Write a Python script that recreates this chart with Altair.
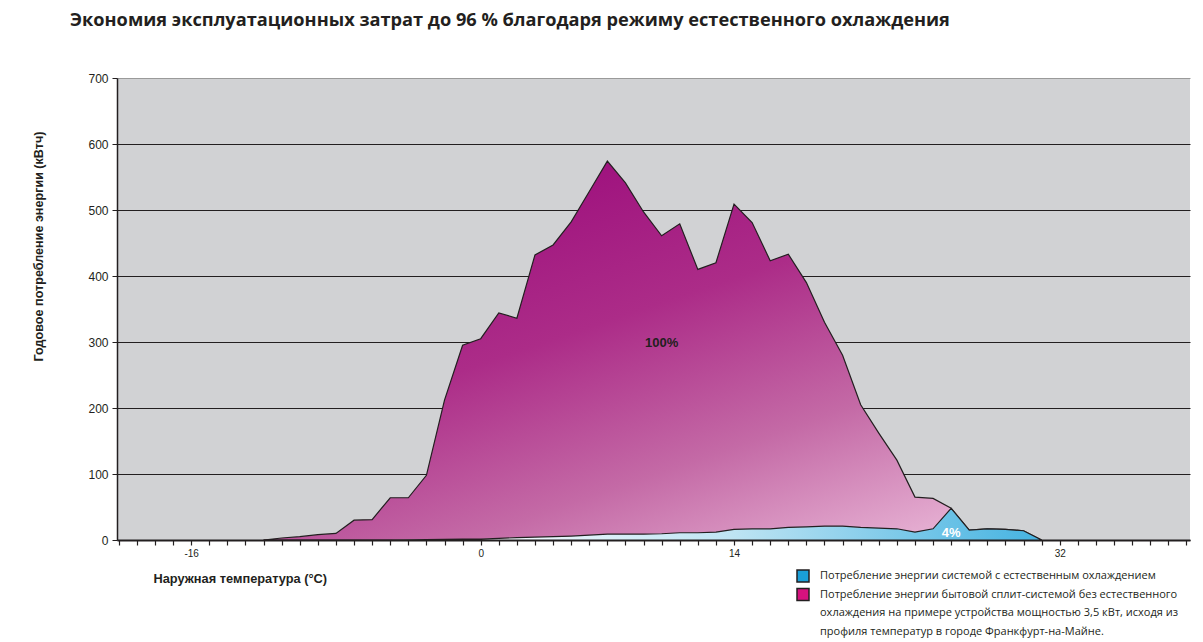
import altair as alt
import pandas as pd

temps = list(range(-12, 32))
without_free = [0, 3, 5, 8, 10, 30, 31, 64, 64, 98, 212, 295, 305, 344, 336, 432, 447, 482, 528, 574,
                541, 497, 461, 479, 410, 420, 509, 481, 423, 433, 390, 330, 280, 205, 162, 121, 65, 63,
                48, 15, 17, 16, 14, 0]
with_free = [0, 0, 0, 0, 0, 0, 0, 0, 0.3, 0.6, 0.9, 1.2, 1.5, 2.5, 3.5, 4.5, 5, 6, 7.5, 9,
             9, 9, 9.5, 11, 11, 12, 16, 17, 17, 19, 20, 21, 21, 19, 18, 17, 12, 17,
             48, 15, 17, 16, 14, 0]

x_ticks = list(range(-20, 40))
x_labels_shown = [-16, 0, 14, 32]
y_ticks = [0, 100, 200, 300, 400, 500, 600, 700]

legend_lines = ["Потребление энергии системой с естественным охлаждением",
                "Потребление энергии бытовой сплит-системой без естественного",
                "охлаждения на примере устройства мощностью 3,5 кВт, исходя из",
                "профиля температур в городе Франкфурт-на-Майне."]
legend_fill = ["#1a9fd8", "#d6127e", "transparent", "transparent"]
legend_border = ["#231f20", "#231f20", "transparent", "transparent"]

annot_t = [10, 26]
annot_v = [298, 11]
annot_text = ["100%", "4%"]
annot_color = ["#231f20", "#ffffff"]

df = pd.DataFrame({"t": temps, "without": without_free, "with": with_free})
ann = pd.DataFrame({"t": annot_t, "v": annot_v, "txt": annot_text, "c": annot_color})
leg = pd.DataFrame({"series": legend_lines})

xscale = alt.Scale(domain=[-20.1, 39.2], nice=False, zero=False)
yscale = alt.Scale(domain=[0, 700], nice=False)

label_expr = "indexof([" + ",".join(str(v) for v in x_labels_shown) + "], datum.value) >= 0 ? (datum.value + '') : ''"

x_axis = alt.Axis(values=x_ticks, tickCount=200, labelExpr=label_expr, grid=False, domainColor="#231f20",
                  domainWidth=2, tickColor="#231f20", tickSize=5, tickWidth=1.2, labelFontSize=10,
                  labelFont="Liberation Sans", labelColor="#231f20", labelOverlap=False,
                  labelFlush=False, labelPadding=3,
                  title="Наружная температура (°C)", titleFont="Liberation Sans", titleFontSize=12.8,
                  titleFontWeight="bold", titleColor="#231f20", titleX=36, titleY=38,
                  titleAlign="left", titleBaseline="middle")
y_axis = alt.Axis(values=y_ticks, grid=True,
                  gridColor=alt.condition("datum.value == 700", alt.value("#9a9a9a"), alt.value("#231f20")),
                  gridWidth=1, domainColor="#231f20", domainWidth=1.5, tickColor="#231f20",
                  tickSize=5, labelFontSize=12, labelFont="Liberation Sans", labelColor="#231f20",
                  labelPadding=4,
                  title="Годовое потребление энергии (кВтч)", titleFont="Liberation Sans",
                  titleFontSize=12.6, titleFontWeight="bold", titleColor="#231f20",
                  titleAngle=-90, titleX=-79, titleY=168, titleAlign="center", titleBaseline="middle")

purple_grad = alt.Gradient(gradient="linear",
                           stops=[alt.GradientStop(color="#9c0d7c", offset=0),
                                  alt.GradientStop(color="#ac2c88", offset=0.35),
                                  alt.GradientStop(color="#c46aa6", offset=0.65),
                                  alt.GradientStop(color="#efc3df", offset=1)],
                           x1=0.3, y1=0, x2=1, y2=1)
blue_grad = alt.Gradient(gradient="linear",
                         stops=[alt.GradientStop(color="#ffffff", offset=0),
                                alt.GradientStop(color="#f4fafd", offset=0.3),
                                alt.GradientStop(color="#bfe4f3", offset=0.6),
                                alt.GradientStop(color="#45b3e1", offset=1)],
                         x1=0, y1=0, x2=1, y2=0)

base = alt.Chart(df)
purple = base.mark_area(color=purple_grad, stroke="#231f20", strokeWidth=1.2, clip=True).encode(
    x=alt.X("t:Q", scale=xscale, axis=x_axis),
    y=alt.Y("without:Q", scale=yscale, axis=y_axis),
)
blue = base.mark_area(color=blue_grad, stroke="#231f20", strokeWidth=1.2, clip=True).encode(
    x=alt.X("t:Q", scale=xscale),
    y=alt.Y("with:Q", scale=yscale),
)
text = alt.Chart(ann).mark_text(font="Liberation Sans", fontWeight="bold", fontSize=13).encode(
    x=alt.X("t:Q", scale=xscale),
    y=alt.Y("v:Q", scale=yscale),
    text="txt:N",
    color=alt.Color("c:N", scale=None),
)
leg_props = dict(title=None, orient="none", legendX=679, legendY=491,
                 symbolType="square", symbolSize=144, symbolOpacity=1, symbolStrokeWidth=1.5,
                 labelFont="Open Sans", labelFontSize=11.0, labelColor="#231f20",
                 labelLimit=500, labelOffset=10)
legend_layer = alt.Chart(leg).mark_square(opacity=0).encode(
    fill=alt.Fill("series:N", scale=alt.Scale(domain=legend_lines, range=legend_fill),
                  legend=alt.Legend(**leg_props)),
    stroke=alt.Stroke("series:N", scale=alt.Scale(domain=legend_lines, range=legend_border),
                      legend=alt.Legend(**leg_props)),
)

chart = alt.layer(purple, blue, text, legend_layer).properties(
    width=1073, height=462,
    view=alt.ViewBackground(fill="#d1d2d4", strokeWidth=0),
    title=alt.TitleParams("Экономия эксплуатационных затрат до 96 % благодаря режиму естественного охлаждения",
                          font="Open Sans", fontSize=18.2, fontWeight="bold", color="#231f20",
                          anchor="start", frame="group", dx=-47, offset=41.5),
    autosize=alt.AutoSizeParams(type="none"),
    padding={"left": 109, "top": 70, "right": 5, "bottom": 100},
).configure_view(fill="#d1d2d4", strokeWidth=0).configure_legend(rowPadding=0.5)

chart.save("out.html", embed_options={"renderer": "svg", "actions": False})
